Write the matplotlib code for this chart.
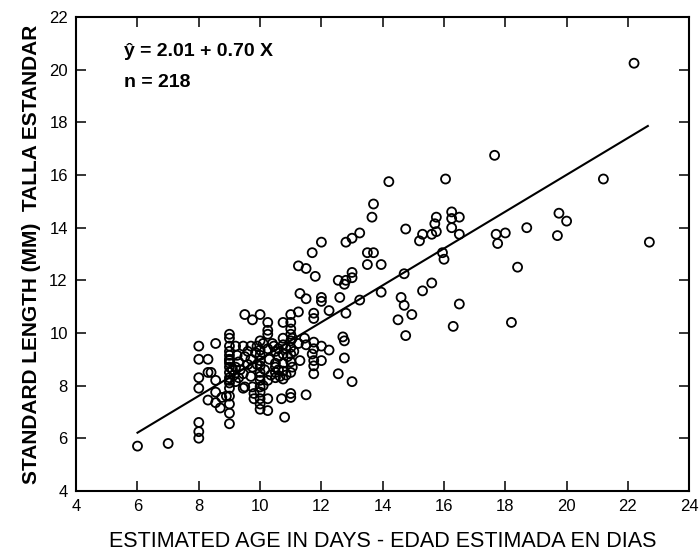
import matplotlib
matplotlib.use("Agg")
import matplotlib.pyplot as plt
import numpy as np

plt.rcParams['font.family'] = ['Liberation Sans', 'DejaVu Sans']

# age (days) and standard length (mm), column by column
age_left = [6.0, 7.0, 8, 8, 8, 8, 8, 8, 8, 8.3, 8.3, 8.4, 8.55, 8.55, 8.3, 8.55, 8.55, 8.75, 8.7, 8.9]
len_left = [5.7, 5.8, 9.5, 9.0, 8.3, 7.9, 6.6, 6.25, 6.0, 9.0, 8.5, 8.5, 9.6, 8.2, 7.45, 7.75, 7.35, 7.55, 7.15, 7.6]

age_9 = [9, 9, 9, 9, 9, 9, 9, 9, 9, 9, 9, 9, 9, 9, 9, 9,
         9.2, 9.45, 9.25, 9.2, 9.45, 9.45, 9.2, 9.3, 9.5, 9.75, 9.3, 9.5, 9.15,
         9.7, 9.7, 9.75, 9.7, 9.75, 9.8, 9.8, 9.85, 9.9]
len_9 = [9.95, 9.8, 9.3, 9.15, 9.0, 8.85, 8.7, 8.5, 8.3, 7.9, 7.6, 7.3, 6.95, 6.55, 8.1, 8.95,
         9.5, 9.5, 9.15, 8.7, 8.45, 7.9, 8.15, 8.3, 10.7, 10.5, 8.9, 9.1, 8.4,
         9.5, 9.0, 8.7, 8.35, 7.95, 7.7, 7.5, 9.25, 8.8]

age_10 = [10, 10, 10, 10, 10, 10, 10, 10, 10, 10, 10, 10, 10,
          10.25, 10.25, 10.25, 10.25, 10.25, 10.25, 10.25, 10.15, 10.3, 10.35,
          10.5, 10.5, 10.5, 10.5, 10.5, 10.45, 10.6, 10.6,
          10.75, 10.75, 10.75, 10.75, 10.75, 10.75, 10.75, 10.7, 10.8, 10.85, 10.85]
len_10 = [10.7, 9.7, 9.35, 9.15, 8.95, 8.75, 8.5, 8.2, 7.95, 7.75, 7.5, 7.3, 7.1,
          10.4, 10.1, 9.95, 9.4, 8.2, 7.5, 7.05, 8.6, 9.0, 8.4,
          9.3, 8.85, 8.7, 8.5, 8.3, 9.5, 9.1, 8.6,
          10.4, 9.8, 9.55, 9.2, 8.85, 8.55, 8.25, 7.5, 6.8, 9.4, 8.4]

age_11 = [11, 11, 11, 11, 11, 11, 11, 11, 11, 11, 11, 11.05, 11.05,
          11.25, 11.3, 11.45, 11.5, 11.5, 11.25,
          11.75, 11.75, 11.75, 11.75, 11.75, 11.75, 11.75, 11.7,
          12, 12, 12, 12, 12.25, 12.25, 12.0, 11.7, 11.8,
          11.25, 11.5, 11.3, 11.5]
len_11 = [10.7, 10.4, 10.15, 9.95, 9.7, 9.45, 9.2, 8.9, 8.5, 7.7, 7.55, 9.8, 8.7,
          10.8, 8.95, 9.8, 9.55, 7.65, 9.6,
          10.75, 10.55, 9.65, 9.4, 8.95, 8.75, 8.45, 9.2,
          11.35, 11.2, 9.5, 8.95, 9.35, 10.85, 13.45, 13.05, 12.15,
          12.55, 12.45, 11.5, 11.3]

age_mid = [12.7, 12.75, 12.75, 12.55, 13.0, 12.8, 12.6, 12.55, 12.75, 12.8, 13.0, 13.0, 12.8, 13.0,
           13.25, 13.25, 13.5, 13.7, 13.5, 13.95, 13.95, 13.7, 13.65, 14.2,
           14.75, 14.7, 14.6, 14.7, 14.95, 14.5, 14.75,
           15.3, 15.2, 15.6, 15.75, 15.7, 15.75, 15.95, 16.0, 15.6, 15.3,
           16.05, 16.25, 16.25, 16.25, 16.5, 16.5, 16.5, 16.3]
len_mid = [9.85, 9.7, 9.05, 8.45, 8.15, 10.75, 11.35, 12.0, 11.85, 12.0, 12.3, 12.1, 13.45, 13.6,
           11.25, 13.8, 13.05, 13.05, 12.6, 12.6, 11.55, 14.9, 14.4, 15.75,
           13.95, 12.25, 11.35, 11.05, 10.7, 10.5, 9.9,
           13.75, 13.5, 13.75, 14.4, 14.15, 13.85, 13.05, 12.8, 11.9, 11.6,
           15.85, 14.6, 14.35, 14.0, 14.4, 13.75, 11.1, 10.25]

age_right = [17.65, 17.7, 17.75, 18.0, 18.7, 18.4, 18.2, 19.75, 20.0, 19.7, 21.2, 22.2, 22.7]
len_right = [16.75, 13.75, 13.4, 13.8, 14.0, 12.5, 10.4, 14.55, 14.25, 13.7, 15.85, 20.25, 13.45]

# overlapping circles inside the dense cluster
age_dense = [9, 9, 9.1, 9.35, 9.6, 9.6, 9.9, 10.1, 10.1, 10.4, 10.6, 10.65, 10.9, 11.1, 9.5, 10.0]
len_dense = [9.5, 8.2, 8.6, 8.6, 8.8, 9.3, 9.5, 9.6, 8.0, 9.6, 9.4, 8.35, 9.1, 9.3, 7.95, 8.35]

intercept = 2.01
slope = 0.70
line_x = [6.0, 22.65]

ages = age_left + age_9 + age_10 + age_11 + age_mid + age_right + age_dense
lengths = len_left + len_9 + len_10 + len_11 + len_mid + len_right + len_dense

fig = plt.figure(figsize=(6.99, 5.54), dpi=100)
ax = fig.add_axes([0.109, 0.114, 0.877, 0.855])

ax.scatter(ages, lengths, s=42, facecolors='none', edgecolors='black', linewidths=1.3, zorder=3)
lx = np.array(line_x)
ax.plot(lx, intercept + slope * lx, color='black', linewidth=1.5, zorder=2)

ax.set_xlim(4, 24)
ax.set_ylim(4, 22)
ax.set_xticks(range(4, 25, 2))
ax.set_yticks(range(4, 23, 2))
ax.tick_params(direction='in', length=7, width=1.1, top=True, right=True,
               labelsize=12, pad=6)
for sp in ax.spines.values():
    sp.set_linewidth(1.5)

ax.set_xlabel('ESTIMATED AGE IN DAYS - EDAD ESTIMADA EN DIAS', fontsize=15.5, labelpad=12)
ax.set_ylabel('STANDARD LENGTH (MM)  TALLA ESTANDAR', fontsize=15, fontweight='bold', labelpad=6)

ax.text(5.57, 20.7, 'ŷ = 2.01 + 0.70 X', fontsize=14, fontweight='bold', va='center')
ax.text(5.57, 19.5, 'n = 218', fontsize=14, fontweight='bold', va='center')

fig.savefig('out.png', dpi=100)
